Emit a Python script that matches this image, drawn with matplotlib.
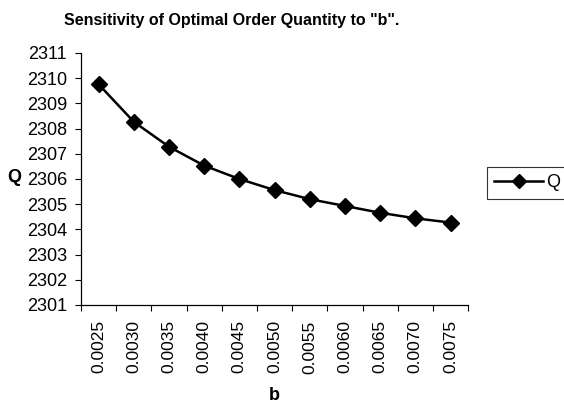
import matplotlib.pyplot as plt
import numpy as np

plt.rcParams['font.family'] = ['Liberation Sans', 'DejaVu Sans']

# Data
b_labels = ["0.0025", "0.0030", "0.0035", "0.0040", "0.0045", "0.0050",
            "0.0055", "0.0060", "0.0065", "0.0070", "0.0075"]
q_values = [2309.76, 2308.27, 2307.28, 2306.53, 2306.0, 2305.56,
            2305.2, 2304.93, 2304.66, 2304.44, 2304.27]
y_ticks = list(range(2301, 2312))

fig = plt.figure(figsize=(5.64, 4.03), dpi=100)
ax = fig.add_axes([0.1436, 0.2432, 0.6864, 0.6253])

x = np.arange(len(b_labels))
ax.plot(x, q_values, color='black', linewidth=1.8, marker='D', markersize=8,
        markerfacecolor='black', markeredgecolor='black', label='Q')

ax.set_xlim(-0.5, len(b_labels) - 0.5)
ax.set_ylim(2301, 2311)
ax.set_yticks(y_ticks)
ax.set_xticks(x)
ax.set_xticklabels(b_labels, rotation=90)
ax.set_xticks(np.arange(len(b_labels) + 1) - 0.5, minor=True)
ax.tick_params(axis='x', which='major', length=0, pad=11, labelsize=12.5)
ax.tick_params(axis='x', which='minor', length=4, direction='out', width=0.8)
ax.tick_params(axis='y', length=4, direction='out', width=0.8, labelsize=13, pad=6)

for s in ['top', 'right']:
    ax.spines[s].set_visible(False)
for s in ['left', 'bottom']:
    ax.spines[s].set_linewidth(0.9)

fig.text(274 / 564, 1 - 395 / 403, 'b', fontweight='bold', fontsize=13, ha='center', va='center')
fig.text(14.5 / 564, 1 - 178 / 403, 'Q', fontweight='bold', fontsize=13, va='center', ha='center')
fig.text(232 / 564, 1 - 20 / 403, 'Sensitivity of Optimal Order Quantity to "b".',
         fontweight='bold', fontsize=11.5, ha='center', va='center')

leg = fig.legend(loc='center left', bbox_to_anchor=(487 / 564, 1 - 183 / 403),
                 frameon=True, fancybox=False, edgecolor='black',
                 prop={'family': 'Liberation Sans', 'size': 13},
                 handlelength=2.7, borderpad=0.4, handletextpad=0.2,
                 borderaxespad=0, markerscale=0.85)
leg.get_frame().set_linewidth(0.8)

fig.savefig('out.png', dpi=100)
